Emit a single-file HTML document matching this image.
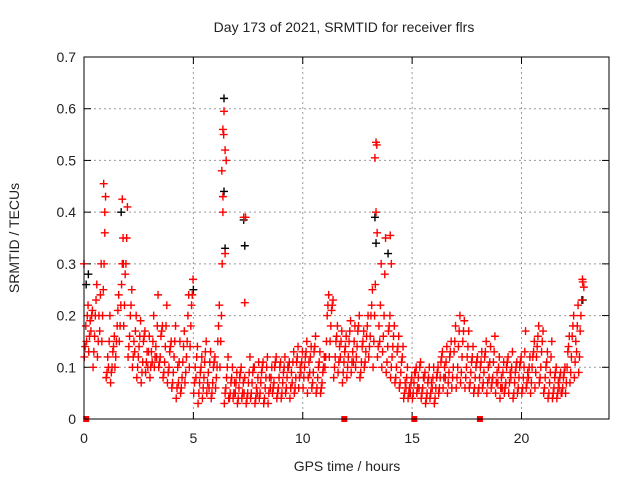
<!DOCTYPE html>
<html><head><meta charset="utf-8"><style>
body{margin:0;background:#fff;}
svg text{font-family:"Liberation Sans",sans-serif;fill:#222;}
</style></head><body>
<svg id="chart" width="640" height="480" xmlns="http://www.w3.org/2000/svg">
<text x="344" y="32" font-size="14" text-anchor="middle">Day 173 of 2021, SRMTID for receiver flrs</text>
<text transform="translate(19,238) rotate(-90)" font-size="14" text-anchor="middle">SRMTID / TECUs</text>
<text x="347" y="471" font-size="14" text-anchor="middle">GPS time / hours</text>
<g id="grid"></g><g id="ticks"></g><g id="marks"></g>
<rect x="84" y="57" width="525" height="362" fill="none" stroke="#000" stroke-width="1"/>
</svg>
<script>
const xTicks=[0,5,10,15,20];
const yTicks=[0,0.1,0.2,0.3,0.4,0.5,0.6,0.7];
const yTickLabels=["0","0.1","0.2","0.3","0.4","0.5","0.6","0.7"];
const binStart=0.1, binStep=0.2;
const lo=[0.12,0.13,0.10,0.12,0.15, 0.08,0.07,0.1,0.15,0.18, 0.12,0.1,0.08,0.07,0.09, 0.08,0.1,0.1,0.08,0.07, 0.06,0.04,0.05,0.07,0.1, 0.05,0.03,0.04,0.05,0.04, 0.06,0.1,0.03,0.04,0.04, 0.03,0.04,0.03,0.04,0.03, 0.04,0.03,0.03,0.05,0.04, 0.04,0.05,0.04,0.05,0.06, 0.06,0.05,0.06,0.05,0.05, 0.1,0.12,0.08,0.09,0.07, 0.08,0.09,0.1,0.08,0.1, 0.12,0.1,0.12,0.1,0.09, 0.08,0.07,0.06,0.04,0.04, 0.04,0.05,0.04,0.03,0.04, 0.03,0.05,0.06,0.05,0.06, 0.06,0.07,0.06,0.06,0.05, 0.05,0.06,0.05,0.06,0.05, 0.04,0.05,0.05,0.04,0.05, 0.05,0.06,0.05,0.06,0.07, 0.05,0.04,0.04,0.04,0.05, 0.05,0.07,0.08,0.09];
const midC=[0.14,0.16,0.13,0.15,0.2, 0.09,0.09,0.12,0.18,0.22, 0.14,0.12,0.1,0.09,0.11, 0.1,0.12,0.11,0.09,0.09, 0.07,0.06,0.06,0.09,0.14, 0.07,0.05,0.06,0.07,0.05, 0.08,0.15,0.05,0.04,0.05, 0.04,0.05,0.04,0.05,0.04, 0.05,0.04,0.05,0.06,0.05, 0.05,0.06,0.06,0.06,0.08, 0.08,0.08,0.07,0.06,0.06, 0.12,0.15,0.1,0.11,0.09, 0.1,0.11,0.12,0.09,0.11, 0.14,0.15,0.14,0.13,0.11, 0.1,0.08,0.07,0.05,0.05, 0.05,0.06,0.05,0.04,0.05, 0.04,0.06,0.08,0.07,0.08, 0.08,0.09,0.08,0.07,0.06, 0.06,0.07,0.07,0.07,0.07, 0.06,0.06,0.07,0.05,0.06, 0.06,0.07,0.07,0.09,0.08, 0.06,0.05,0.05,0.05,0.05, 0.07,0.09,0.11,0.12];
const midA=[0.18,0.19,0.16,0.2,0.25, 0.12,0.1,0.15,0.22,0.28, 0.16,0.15,0.12,0.11,0.13, 0.13,0.14,0.12,0.11,0.1, 0.09,0.1,0.08,0.12,0.18, 0.1,0.07,0.08,0.09,0.07, 0.1,0.2,0.06,0.05,0.07, 0.06,0.07,0.05,0.07,0.06, 0.07,0.06,0.08,0.07,0.06, 0.07,0.08,0.09,0.08,0.1, 0.1,0.11,0.09,0.08,0.07, 0.15,0.18,0.12,0.14,0.11, 0.12,0.13,0.14,0.11,0.13, 0.16,0.2,0.18,0.16,0.14, 0.12,0.1,0.09,0.07,0.06, 0.07,0.08,0.06,0.05,0.07, 0.06,0.08,0.1,0.09,0.1, 0.1,0.12,0.1,0.09,0.08, 0.08,0.09,0.1,0.08,0.09, 0.08,0.07,0.09,0.07,0.08, 0.08,0.09,0.1,0.12,0.1, 0.08,0.07,0.06,0.07,0.06, 0.1,0.12,0.15,0.17];
const midB=[0.15,0.17,0.2,0.17,0.3, 0.1,0.13,0.18,0.26,0.3, 0.2,0.13,0.14,0.15,0.1, 0.11,0.12,0.16,0.14,0.13, 0.12,0.07,0.11,0.15,0.22, 0.08,0.09,0.11,0.06,0.1, 0.15,0.3,0.08,0.07,0.05, 0.08,0.05,0.07,0.09,0.05, 0.09,0.08,0.06,0.1,0.08, 0.09,0.1,0.07,0.11,0.09, 0.12,0.09,0.13,0.1,0.09, 0.2,0.21,0.15,0.12,0.13, 0.15,0.11,0.17,0.14,0.16, 0.2,0.26,0.15,0.2,0.17, 0.14,0.13,0.11,0.06,0.05, 0.09,0.06,0.08,0.07,0.06, 0.08,0.11,0.08,0.12,0.13, 0.14,0.15,0.12,0.11,0.1, 0.1,0.12,0.08,0.11,0.07, 0.06,0.1,0.08,0.09,0.1, 0.1,0.08,0.12,0.14,0.13, 0.1,0.09,0.08,0.06,0.08, 0.13,0.16,0.13,0.2];
const midD=[0.2,0.2,0.23,0.24,0.36, 0.15,0.14,0.21,0.3,0.35, 0.22,0.17,0.16,0.16,0.13, 0.15,0.18,0.17,0.18,0.14, 0.15,0.11,0.14,0.2,0.24, 0.12,0.1,0.13,0.11,0.11, 0.18,0.4,0.1,0.08,0.07, 0.09,0.08,0.09,0.1,0.08, 0.1,0.1,0.08,0.11,0.1, 0.1,0.1,0.11,0.12,0.11, 0.13,0.12,0.14,0.11,0.1, 0.22,0.22,0.16,0.15,0.14, 0.17,0.15,0.18,0.15,0.18, 0.22,0.4,0.22,0.28,0.18, 0.16,0.14,0.12,0.08,0.07, 0.09,0.1,0.08,0.08,0.08, 0.09,0.12,0.11,0.13,0.15, 0.17,0.17,0.14,0.12,0.11, 0.11,0.13,0.11,0.13,0.1, 0.09,0.11,0.1,0.1,0.11, 0.13,0.1,0.13,0.16,0.15, 0.11,0.12,0.09,0.08,0.09, 0.14,0.18,0.18,0.23];
const hi=[0.22,0.21,0.26,0.3,0.43, 0.2,0.16,0.24,0.35,0.41, 0.25,0.2,0.19,0.17,0.16, 0.2,0.24,0.18,0.22,0.15, 0.18,0.15,0.17,0.24,0.27, 0.14,0.12,0.15,0.13,0.12, 0.22,0.55,0.12,0.1,0.09, 0.1,0.39,0.12,0.1,0.11, 0.11,0.12,0.1,0.12,0.11, 0.12,0.11,0.13,0.14,0.13, 0.15,0.14,0.16,0.13,0.12, 0.24,0.23,0.18,0.17,0.16, 0.19,0.18,0.2,0.17,0.2, 0.25,0.53,0.3,0.35,0.2, 0.18,0.16,0.14,0.1,0.08, 0.1,0.11,0.09,0.1,0.1, 0.1,0.13,0.14,0.15,0.18, 0.2,0.19,0.17,0.14,0.12, 0.13,0.15,0.14,0.16,0.12, 0.11,0.12,0.13,0.11,0.12, 0.17,0.12,0.15,0.18,0.17, 0.13,0.15,0.1,0.09,0.1, 0.16,0.2,0.22,0.27];
const spikeHours=[0,0.9,0.95,1.75,1.8,6.3,6.35,6.4,6.45,6.5,6.35,6.45,7.3,7.35,13.35,13.3,13.4,14,14.05,22.8,22.85];
const spikeValues=[0.3,0.455,0.4,0.425,0.3,0.48,0.56,0.595,0.52,0.5,0.43,0.32,0.39,0.225,0.535,0.505,0.36,0.355,0.3,0.265,0.255];
const blackHours=[0.1,1.7,6.4,6.4,6.45,7.3,7.35,13.3,13.35,13.9,22.8,0.2,5.0];
const blackValues=[0.26,0.4,0.62,0.44,0.33,0.385,0.335,0.39,0.34,0.32,0.23,0.28,0.25];
const zeroHours=[0.1,11.9,15.1,18.1];

const X0=84,X1=609,Y0=419,Y1=57;
const xs=h=>X0+h/24*(X1-X0);
const ys=v=>Y0-v/0.7*(Y0-Y1);
const NS='http://www.w3.org/2000/svg';
const grid=document.getElementById('grid'),ticks=document.getElementById('ticks'),marks=document.getElementById('marks');
function mk(tag,attrs,parent){const e=document.createElementNS(NS,tag);for(const k in attrs)e.setAttribute(k,attrs[k]);parent.appendChild(e);return e;}
xTicks.forEach((t,i)=>{const x=xs(t);
 if(t>0){const g=mk('line',{x1:x,x2:x,y1:Y1,y2:Y0,stroke:'#999','stroke-dasharray':'2,3'},grid);
 
 }
 mk('line',{x1:x,x2:x,y1:Y0,y2:Y0-7,stroke:'#000'},ticks);mk('line',{x1:x,x2:x,y1:Y1,y2:Y1+7,stroke:'#000'},ticks);
 const tx=mk('text',{x:x,y:Y0+24,'font-size':14,'text-anchor':'middle'},ticks);tx.textContent=String(t);
 
 });
yTicks.forEach((t,i)=>{const y=ys(t);
 if(t>0&&t<0.7){const g=mk('line',{x1:X0,x2:X1,y1:y,y2:y,stroke:'#999','stroke-dasharray':'2,3'},grid);
 
 }
 mk('line',{x1:X0,x2:X0+7,y1:y,y2:y,stroke:'#000'},ticks);mk('line',{x1:X1,x2:X1-7,y1:y,y2:y,stroke:'#000'},ticks);
 const tx=mk('text',{x:X0-8,y:y+5,'font-size':14,'text-anchor':'end'},ticks);tx.textContent=yTickLabels[i];
 
 });
function plus(h,v,color,name){const x=xs(h),y=ys(v);
 const p=mk('path',{d:`M${x-4},${y}H${x+4}M${x},${y-4}V${y+4}`,stroke:color,'stroke-width':1.4,fill:'none'},marks);
 
 }
blackHours.forEach((h,i)=>plus(h,blackValues[i],'#000','black-point'));
const series=[[lo,-0.085],[midC,-0.05],[midA,-0.017],[midB,0.017],[midD,0.05],[hi,0.085]];
series.forEach(([arr,off])=>arr.forEach((v,i)=>plus(binStart+i*binStep+off,v,'#f00','srmtid-point')));
spikeHours.forEach((h,i)=>plus(h,spikeValues[i],'#f00','srmtid-point'));
zeroHours.forEach(h=>{const r=mk('rect',{x:xs(h)-3,y:Y0-3,width:6,height:6,fill:'#f00'},marks);
 
 });
</script>
</body></html>
